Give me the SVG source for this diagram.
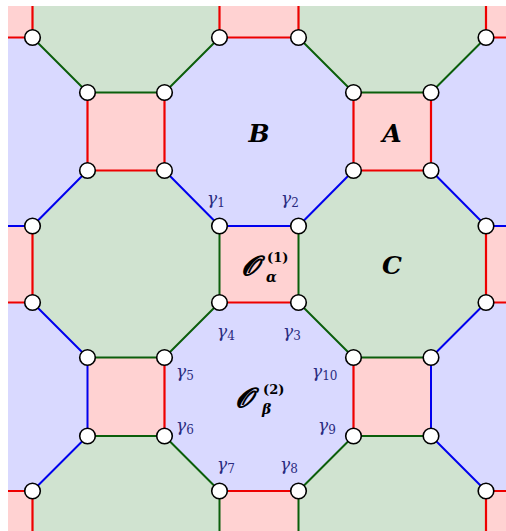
<svg xmlns="http://www.w3.org/2000/svg" width="506" height="531" viewBox="0 0 506 531">
<defs>
<clipPath id="clip"><rect x="8" y="6" width="498" height="525"/></clipPath>
<style>
.sq{fill:#ffd2d2;stroke:none}
.oct{fill:#d9d9ff;stroke:none}
.r{stroke:#ee0000;stroke-width:2.2;fill:none}
.g{stroke:#0b5e0b;stroke-width:2;fill:none}
.b{stroke:#0000ee;stroke-width:2;fill:none}
.v{fill:#ffffff;stroke:#000000;stroke-width:1.6}
.lbl{font-family:"DejaVu Serif","Liberation Serif",serif;font-weight:bold;font-style:italic;fill:#000000}
.up{font-style:normal}
.gam{font-family:"DejaVu Serif","Liberation Serif",serif;font-style:italic;font-size:17px;fill:#2b2b80}
.sub{font-style:normal;font-size:12px}
</style>
</defs>
<rect x="0" y="0" width="506" height="531" fill="#ffffff"/>
<g clip-path="url(#clip)">
<rect x="0" y="0" width="506" height="531" fill="#d0e3d0"/>
<g id="faces">
<polygon id="octB" class="oct" points="219.5,37.5 298.5,37.5 353.5,92.5 353.5,170.5 298.5,226 219.5,226 164.5,170.5 164.5,92.5"/>
<polygon class="oct" points="0,37.5 32.5,37.5 87.5,92.5 87.5,170.5 32.5,226 0,226"/>
<polygon class="oct" points="506,37.5 486,37.5 431,92.5 431,170.5 486,226 506,226"/>
<polygon id="octBeta" class="oct" points="219.5,302.5 298.5,302.5 353.5,357.5 353.5,436 298.5,491 219.5,491 164.5,436 164.5,357.5"/>
<polygon class="oct" points="0,302.5 32.5,302.5 87.5,357.5 87.5,436 32.5,491 0,491"/>
<polygon class="oct" points="506,302.5 486,302.5 431,357.5 431,436 486,491 506,491"/>
<rect class="sq" x="-45" y="-40" width="77.5" height="77.5"/>
<rect class="sq" x="219.5" y="-40" width="79" height="77.5"/>
<rect class="sq" x="486" y="-40" width="78" height="77.5"/>
<rect class="sq" x="87.5" y="92.5" width="77" height="78"/>
<rect id="sqA" class="sq" x="353.5" y="92.5" width="77.5" height="78"/>
<rect class="sq" x="-45" y="226" width="77.5" height="76.5"/>
<rect id="sqAlpha" class="sq" x="219.5" y="226" width="79" height="76.5"/>
<rect class="sq" x="486" y="226" width="78" height="76.5"/>
<rect class="sq" x="87.5" y="357.5" width="77" height="78.5"/>
<rect class="sq" x="353.5" y="357.5" width="77.5" height="78.5"/>
<rect class="sq" x="-45" y="491" width="77.5" height="78"/>
<rect class="sq" x="219.5" y="491" width="79" height="78"/>
<rect class="sq" x="486" y="491" width="78" height="78"/>
</g>
<g id="connectors">
<path class="r" d="M-45,37.5H32.5 M32.5,-40V37.5 M219.5,37.5H298.5 M219.5,-40V37.5 M298.5,-40V37.5 M486,37.5H564 M486,-40V37.5 M87.5,92.5V170.5 M164.5,92.5V170.5 M87.5,170.5H164.5 M353.5,92.5V170.5 M431,92.5V170.5 M353.5,170.5H431 M32.5,226V302.5 M-45,302.5H32.5 M219.5,302.5H298.5 M486,226V302.5 M486,302.5H564 M164.5,357.5V436 M353.5,357.5V436 M-45,491H32.5 M32.5,491V569 M219.5,491H298.5 M486,491H564 M486,491V569"/>
<path class="g" d="M87.5,92.5H164.5 M353.5,92.5H431 M32.5,37.5L87.5,92.5 M164.5,92.5L219.5,37.5 M298.5,37.5L353.5,92.5 M431,92.5L486,37.5 M219.5,226V302.5 M298.5,226V302.5 M219.5,302.5L164.5,357.5 M298.5,302.5L353.5,357.5 M87.5,357.5H164.5 M87.5,436H164.5 M353.5,357.5H431 M353.5,436H431 M164.5,436L219.5,491 M353.5,436L298.5,491 M219.5,491V569 M298.5,491V569"/>
<path class="b" d="M87.5,170.5L32.5,226 M164.5,170.5L219.5,226 M353.5,170.5L298.5,226 M431,170.5L486,226 M-45,226H32.5 M219.5,226H298.5 M486,226H564 M32.5,302.5L87.5,357.5 M486,302.5L431,357.5 M87.5,357.5V436 M431,357.5V436 M87.5,436L32.5,491 M431,436L486,491"/>
</g>
<g id="v1"><circle class="v" cx="32.5" cy="37.5" r="7.8"/></g>
<g id="v2"><circle class="v" cx="219.5" cy="37.5" r="7.8"/></g>
<g id="v3"><circle class="v" cx="298.5" cy="37.5" r="7.8"/></g>
<g id="v4"><circle class="v" cx="486" cy="37.5" r="7.8"/></g>
<g id="v5"><circle class="v" cx="87.5" cy="92.5" r="7.8"/></g>
<g id="v6"><circle class="v" cx="164.5" cy="92.5" r="7.8"/></g>
<g id="v7"><circle class="v" cx="353.5" cy="92.5" r="7.8"/></g>
<g id="v8"><circle class="v" cx="431" cy="92.5" r="7.8"/></g>
<g id="v9"><circle class="v" cx="87.5" cy="170.5" r="7.8"/></g>
<g id="v10"><circle class="v" cx="164.5" cy="170.5" r="7.8"/></g>
<g id="v11"><circle class="v" cx="353.5" cy="170.5" r="7.8"/></g>
<g id="v12"><circle class="v" cx="431" cy="170.5" r="7.8"/></g>
<g id="v13"><circle class="v" cx="32.5" cy="226" r="7.8"/></g>
<g id="v14"><circle class="v" cx="219.5" cy="226" r="7.8"/></g>
<g id="v15"><circle class="v" cx="298.5" cy="226" r="7.8"/></g>
<g id="v16"><circle class="v" cx="486" cy="226" r="7.8"/></g>
<g id="v17"><circle class="v" cx="32.5" cy="302.5" r="7.8"/></g>
<g id="v18"><circle class="v" cx="219.5" cy="302.5" r="7.8"/></g>
<g id="v19"><circle class="v" cx="298.5" cy="302.5" r="7.8"/></g>
<g id="v20"><circle class="v" cx="486" cy="302.5" r="7.8"/></g>
<g id="v21"><circle class="v" cx="87.5" cy="357.5" r="7.8"/></g>
<g id="v22"><circle class="v" cx="164.5" cy="357.5" r="7.8"/></g>
<g id="v23"><circle class="v" cx="353.5" cy="357.5" r="7.8"/></g>
<g id="v24"><circle class="v" cx="431" cy="357.5" r="7.8"/></g>
<g id="v25"><circle class="v" cx="87.5" cy="436" r="7.8"/></g>
<g id="v26"><circle class="v" cx="164.5" cy="436" r="7.8"/></g>
<g id="v27"><circle class="v" cx="353.5" cy="436" r="7.8"/></g>
<g id="v28"><circle class="v" cx="431" cy="436" r="7.8"/></g>
<g id="v29"><circle class="v" cx="32.5" cy="491" r="7.8"/></g>
<g id="v30"><circle class="v" cx="219.5" cy="491" r="7.8"/></g>
<g id="v31"><circle class="v" cx="298.5" cy="491" r="7.8"/></g>
<g id="v32"><circle class="v" cx="486" cy="491" r="7.8"/></g>
</g>
<g id="labels">
<text class="lbl" x="259" y="142" font-size="25" text-anchor="middle">B</text>
<text class="lbl" x="392" y="142" font-size="25" text-anchor="middle">A</text>
<text class="lbl" x="392" y="274" font-size="25" text-anchor="middle">C</text>
<text class="lbl" x="242" y="275" font-size="27">𝓞</text>
<text class="lbl up" x="267" y="262" font-size="13">(1)</text>
<text class="lbl" x="266" y="282" font-size="14">α</text>
<text class="lbl" x="236" y="407" font-size="27">𝓞</text>
<text class="lbl up" x="263" y="394" font-size="13">(2)</text>
<text class="lbl" x="262" y="414" font-size="14">β</text>
<text class="gam" x="207" y="204">γ<tspan class="sub" dy="3">1</tspan></text>
<text class="gam" x="281" y="204">γ<tspan class="sub" dy="3">2</tspan></text>
<text class="gam" x="217" y="337">γ<tspan class="sub" dy="3">4</tspan></text>
<text class="gam" x="283" y="337">γ<tspan class="sub" dy="3">3</tspan></text>
<text class="gam" x="176" y="377">γ<tspan class="sub" dy="3">5</tspan></text>
<text class="gam" x="176" y="431">γ<tspan class="sub" dy="3">6</tspan></text>
<text class="gam" x="312" y="377">γ<tspan class="sub" dy="3">10</tspan></text>
<text class="gam" x="318" y="431">γ<tspan class="sub" dy="3">9</tspan></text>
<text class="gam" x="217" y="470">γ<tspan class="sub" dy="3">7</tspan></text>
<text class="gam" x="280" y="470">γ<tspan class="sub" dy="3">8</tspan></text>
</g>
</svg>
